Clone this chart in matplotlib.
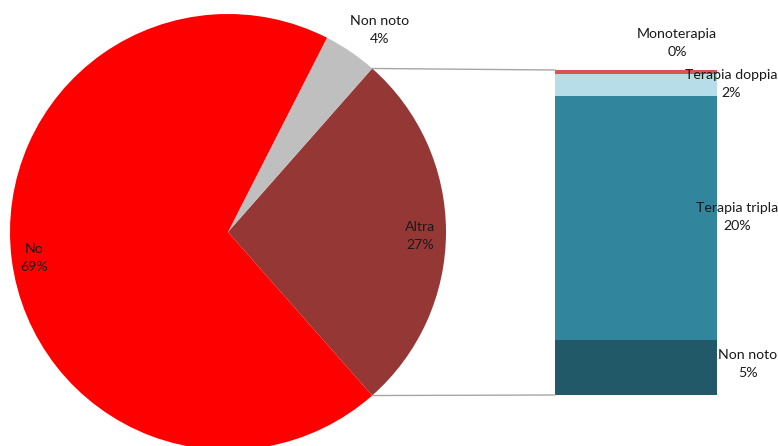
import numpy as np
import matplotlib
matplotlib.use("Agg")
import matplotlib.pyplot as plt

plt.rcParams['font.family'] = ['Lato', 'DejaVu Sans']

# main pie (percent)
pie_labels = ["Altra", "Non noto", "No"]
pie_values = [27, 4, 69]
pie_colors = ["#953735", "#BFBFBF", "#FF0000"]

# breakdown of "Altra" (percent of total), bottom to top
bar_labels = ["Non noto", "Terapia tripla", "Terapia doppia", "Monoterapia"]
bar_values = [4.6, 20.2, 1.9, 0.3]
bar_colors = ["#215968", "#31859C", "#B7DEE8", "#D9534F"]

W, H = 778, 446
fig = plt.figure(figsize=(W / 100, H / 100), dpi=100)
ax = fig.add_axes([0, 0, 1, 1])

cx, cy, r = 228, H - 232, 218
start = -pie_values[0] * 3.6 / 2
ax.pie(pie_values, colors=pie_colors, center=(cx, cy), radius=r,
       startangle=start, counterclock=True,
       wedgeprops=dict(linewidth=0))

# stacked bar for the "Altra" slice
bx, bw = 636, 162
bot_y = H - 395
scale = 325 / sum(bar_values)
bottom = bot_y
for v, c in zip(bar_values, bar_colors):
    ax.bar(bx, v * scale, width=bw, bottom=bottom, color=c, linewidth=0)
    bottom += v * scale
top_y = bottom

# connector lines
a0, a1 = np.radians(start), np.radians(-start)
ax.plot([cx + r * np.cos(a1), bx - bw / 2], [cy + r * np.sin(a1), top_y],
        color="#A6A6A6", lw=1)
ax.plot([cx + r * np.cos(a0), bx - bw / 2], [cy + r * np.sin(a0), bot_y],
        color="#A6A6A6", lw=1)

txt = dict(fontsize=10.2, color="#1a1a1a", ha="center", va="center",
           linespacing=1.55)
ax.text(380, H - 30, "%s\n%d%%" % (pie_labels[1], pie_values[1]), **txt)
ax.text(34, H - 258, "%s\n%d%%" % (pie_labels[2], pie_values[2]), **txt)
ax.text(420, H - 236, "%s\n%d%%" % (pie_labels[0], pie_values[0]), **txt)

bar_pos = [(748, 364), (737, 217), (731, 84), (677, 43)]
for lab, v, (x, y) in zip(bar_labels, bar_values, bar_pos):
    ax.text(x, H - y, "%s\n%d%%" % (lab, round(v)), **txt)

ax.set_xlim(0, W)
ax.set_ylim(0, H)
ax.set_aspect('auto')
ax.axis('off')

fig.savefig("out.png", dpi=100)
